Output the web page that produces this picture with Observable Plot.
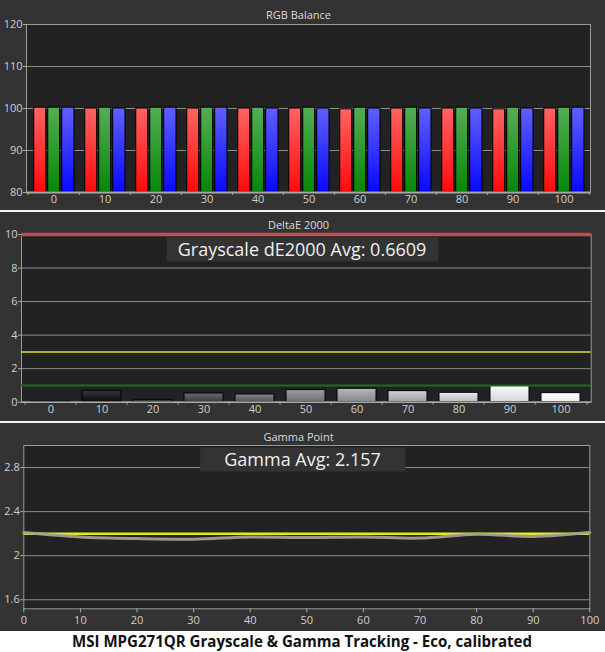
<!DOCTYPE html>
<html>
<head>
<meta charset="utf-8">
<script src="https://cdn.jsdelivr.net/npm/d3@7"></script>
<script src="https://cdn.jsdelivr.net/npm/@observablehq/plot@0.6"></script>
<style>
html, body { margin: 0; padding: 0; background: #fff; }
#root { width: 605px; }
#root svg { display: block; }
.sep { height: 2px; background: #f2f2f2; }
</style>
</head>
<body>
<div id="root"></div>
<script>
// ---------------- DATA ----------------
const levels = [0, 10, 20, 30, 40, 50, 60, 70, 80, 90, 100];
const redVals   = [100.2, 100, 100, 100, 100, 100, 99.8, 100, 100, 99.8, 100];
const greenVals = [100.2, 100.2, 100.2, 100.2, 100.2, 100.2, 100.2, 100.2, 100.2, 100.2, 100.2];
const blueVals  = [100.2, 100, 100.2, 100.2, 100, 100, 100, 100, 100, 100, 100.2];
const deltaEVals = [0.03, 0.68, 0.14, 0.52, 0.46, 0.72, 0.80, 0.66, 0.56, 1.0, 0.54];
const gammaVals = [2.21, 2.17, 2.155, 2.15, 2.17, 2.165, 2.17, 2.16, 2.195, 2.175, 2.21];

const rgbTicks = [80, 90, 100, 110, 120];
const deTicks = [0, 2, 4, 6, 8, 10];
const gammaTicks = [1.6, 2, 2.4, 2.8];
const gammaTickLabels = ["1.6", "2", "2.4", "2.8"];
const gammaDomain = [1.518, 3.0];

const deRedLimit = 10, deYellowLimit = 3, deGreenLimit = 1;
const gammaTarget = 2.2;

const titles = ["RGB Balance", "DeltaE 2000", "Gamma Point"];
const deAvgText = "Grayscale dE2000 Avg: 0.6609";
const gammaAvgText = "Gamma Avg: 2.157";
const caption = "MSI MPG271QR Grayscale & Gamma Tracking - Eco, calibrated";

// ---------------- HELPERS ----------------
const W = 605;
const FONT = "'Open Sans', 'DejaVu Sans', sans-serif";
const baseStyle = { background: "#333", color: "#cfcfcf", fontFamily: FONT, fontSize: "11px", overflow: "visible" };
const GRID = "#8e8e8e";
const TITLE_CX = 298;

function addDefs(svg, grads) {
  const defs = d3.select(svg).insert("defs", ":first-child");
  for (const [id, top, bottom] of grads) {
    const g = defs.append("linearGradient").attr("id", id)
      .attr("x1", 0).attr("y1", 0).attr("x2", 0).attr("y2", 1);
    g.append("stop").attr("offset", "0%").attr("stop-color", top);
    g.append("stop").attr("offset", "100%").attr("stop-color", bottom);
  }
}

function addBox(svg, content, padL, padR, fill) {
  const t = Array.from(svg.querySelectorAll("text")).find(el => el.textContent === content);
  if (!t) return;
  const sb = svg.getBoundingClientRect();
  const tb = t.getBoundingClientRect();
  const r = document.createElementNS("http://www.w3.org/2000/svg", "rect");
  r.setAttribute("x", tb.left - sb.left - padL);
  r.setAttribute("y", tb.top - sb.top + 1);
  r.setAttribute("width", tb.width + padL + padR);
  r.setAttribute("height", tb.height);
  r.setAttribute("fill", fill);
  const g = t.closest("g") || t;
  g.parentNode.insertBefore(r, g);
}

const root = document.getElementById("root");
const axisOpts = { stroke: "#aaa", color: "#cfcfcf", fontSize: 11, label: null };

// ---------------- PANEL 1: RGB Balance ----------------
{
  const H = 210, mT = 24, mB = 18, mL = 26, mR = 15;
  const bw = (W - mL - mR) / levels.length;
  const data = levels.map((l, i) => ({ level: l, r: redVals[i], g: greenVals[i], b: blueVals[i] }));
  const base = rgbTicks[0];
  const svg = Plot.plot({
    width: W, height: H, marginTop: mT, marginBottom: mB, marginLeft: mL, marginRight: mR,
    style: baseStyle,
    x: { type: "band", domain: levels, padding: 0, axis: null, label: null },
    y: { domain: [rgbTicks[0], rgbTicks[rgbTicks.length - 1]], axis: null, label: null },
    marks: [
      Plot.frame({ fill: "#222", stroke: null }),
      Plot.gridY(rgbTicks, { stroke: GRID, strokeOpacity: 1 }),
      Plot.barY(data, { x: "level", y1: () => base, y2: "r", fill: "url(#gRed)", stroke: "#000", strokeWidth: 1,
        insetLeft: bw * 0.112, insetRight: bw * 0.65 }),
      Plot.barY(data, { x: "level", y1: () => base, y2: "g", fill: "url(#gGreen)", stroke: "#000", strokeWidth: 1,
        insetLeft: bw * 0.385, insetRight: bw * 0.378 }),
      Plot.barY(data, { x: "level", y1: () => base, y2: "b", fill: "url(#gBlue)", stroke: "#000", strokeWidth: 1,
        insetLeft: bw * 0.657, insetRight: bw * 0.098 }),
      Plot.frame({ stroke: "#9a9a9a" }),
      Plot.ruleY([base], { stroke: "#a8a8a8", strokeWidth: 2 }),
      Plot.axisY(rgbTicks, { ...axisOpts, tickSize: 3, tickPadding: 1 }),
      Plot.axisX(levels, { ...axisOpts, tickSize: 0, tickPadding: 3 }),
      Plot.ruleX(levels, { dx: -bw / 2, stroke: "#aaa", insetTop: H - mT - mB, insetBottom: -3 }),
      Plot.ruleX([levels[levels.length - 1]], { dx: bw / 2, stroke: "#aaa", insetTop: H - mT - mB, insetBottom: -3 }),
      Plot.text([titles[0]], { frameAnchor: "top", lineAnchor: "middle", dy: -9, dx: TITLE_CX - (mL + (W - mR)) / 2, fill: "#dcdcdc", fontSize: 11 })
    ]
  });
  addDefs(svg, [["gRed", "#ff6464", "#ff0a0a"], ["gGreen", "#55ad55", "#078707"], ["gBlue", "#6060ff", "#0808ff"]]);
  root.appendChild(svg);
}
root.appendChild(Object.assign(document.createElement("div"), { className: "sep" }));

// ---------------- PANEL 2: DeltaE 2000 ----------------
{
  const H = 209, mT = 22, mB = 19.3, mL = 21, mR = 14.3;
  const bw = (W - mL - mR) / levels.length;
  const data = levels.map((l, i) => ({ level: l, de: deltaEVals[i] }));
  const svg = Plot.plot({
    width: W, height: H, marginTop: mT, marginBottom: mB, marginLeft: mL, marginRight: mR,
    style: baseStyle,
    x: { type: "band", domain: levels, padding: 0, axis: null, label: null },
    y: { domain: [deTicks[0], deTicks[deTicks.length - 1]], axis: null, label: null },
    color: { type: "identity" },
    marks: [
      Plot.frame({ fill: "#222", stroke: null }),
      Plot.gridY(deTicks, { stroke: GRID, strokeOpacity: 1 }),
      Plot.barY(data, { x: "level", y: "de", fill: d => `url(#gray${d.level})`, stroke: "#000", strokeWidth: 1,
        insetLeft: 6, insetRight: 6 }),
      Plot.frame({ stroke: "#9a9a9a" }),
      Plot.ruleY([deYellowLimit], { stroke: "#e2e22a", strokeWidth: 1.5 }),
      Plot.ruleY([deGreenLimit], { stroke: "#1f6e1f", strokeWidth: 2 }),
      Plot.ruleY([deRedLimit], { stroke: "#bd4f4f", strokeWidth: 3.5 }),
      Plot.ruleY([deTicks[0]], { stroke: "#a8a8a8", strokeWidth: 1.5 }),
      Plot.axisY(deTicks, { ...axisOpts, tickSize: 3, tickPadding: 1 }),
      Plot.axisX(levels, { ...axisOpts, tickSize: 0, tickPadding: 3 }),
      Plot.ruleX(levels, { dx: -bw / 2, stroke: "#aaa", insetTop: H - mT - mB, insetBottom: -3 }),
      Plot.ruleX([levels[levels.length - 1]], { dx: bw / 2, stroke: "#aaa", insetTop: H - mT - mB, insetBottom: -3 }),
      Plot.text([titles[1]], { frameAnchor: "top", lineAnchor: "middle", dy: -9, dx: TITLE_CX - (mL + (W - mR)) / 2, fill: "#dcdcdc", fontSize: 11 }),
      Plot.text([deAvgText], { frameAnchor: "top", lineAnchor: "bottom", dy: 21, dx: 301.5 - (mL + (W - mR)) / 2,
        fill: "#f0f0f0", fontSize: 18 })
    ]
  });
  addDefs(svg, levels.map(l => {
    const v = 255 * l / 100;
    const top = Math.min(255, Math.round(v + 30)), bot = Math.max(10, Math.round(v - 18));
    return [`gray${l}`, `rgb(${top},${top},${top})`, `rgb(${bot},${bot},${bot})`];
  }));
  root.appendChild(svg);
  addBox(svg, deAvgText, 11, 12, "#333");
}
root.appendChild(Object.assign(document.createElement("div"), { className: "sep" }));

// ---------------- PANEL 3: Gamma Point ----------------
{
  const H = 208, mT = 22, mB = 22.7, mL = 23.3, mR = 15.7;
  const data = levels.map((l, i) => ({ level: l, gamma: gammaVals[i] }));
  const svg = Plot.plot({
    width: W, height: H, marginTop: mT, marginBottom: mB, marginLeft: mL, marginRight: mR,
    style: baseStyle,
    x: { domain: [levels[0], levels[levels.length - 1]], axis: null, label: null },
    y: { domain: gammaDomain, axis: null, label: null },
    marks: [
      Plot.frame({ fill: "#222", stroke: null }),
      Plot.gridY(gammaTicks, { stroke: GRID, strokeOpacity: 1 }),
      Plot.ruleY([gammaTarget], { stroke: "#e8e81a", strokeWidth: 2.5 }),
      Plot.line(data, { x: "level", y: "gamma", curve: "catmull-rom", stroke: "#a0a09a", strokeWidth: 3, strokeOpacity: 0.95 }),
      Plot.frame({ stroke: "#9a9a9a" }),
      Plot.axisY(gammaTicks, { ...axisOpts, tickSize: 3, tickPadding: 1,
        tickFormat: d => gammaTickLabels[gammaTicks.indexOf(d)] }),
      Plot.axisX(levels, { ...axisOpts, tickSize: 4, tickPadding: 3 }),
      Plot.text([titles[2]], { frameAnchor: "top", lineAnchor: "middle", dy: -8, dx: TITLE_CX - (mL + (W - mR)) / 2, fill: "#dcdcdc", fontSize: 11 }),
      Plot.text([gammaAvgText], { frameAnchor: "top", lineAnchor: "bottom", dy: 20, dx: 302 - (mL + (W - mR)) / 2,
        fill: "#f0f0f0", fontSize: 18 })
    ]
  });
  root.appendChild(svg);
  addBox(svg, gammaAvgText, 24, 25, "#333");
}

// ---------------- CAPTION ----------------
{
  const svg = d3.create("svg").attr("width", W).attr("height", 21).style("background", "#fff");
  svg.append("text")
    .attr("x", 302).attr("y", 16.2)
    .attr("text-anchor", "middle")
    .attr("font-family", FONT)
    .attr("font-weight", "bold")
    .attr("font-size", 15.5)
    .attr("textLength", 460)
    .attr("lengthAdjust", "spacingAndGlyphs")
    .attr("fill", "#111")
    .text(caption);
  root.appendChild(svg.node());
}
</script>
</body>
</html>
